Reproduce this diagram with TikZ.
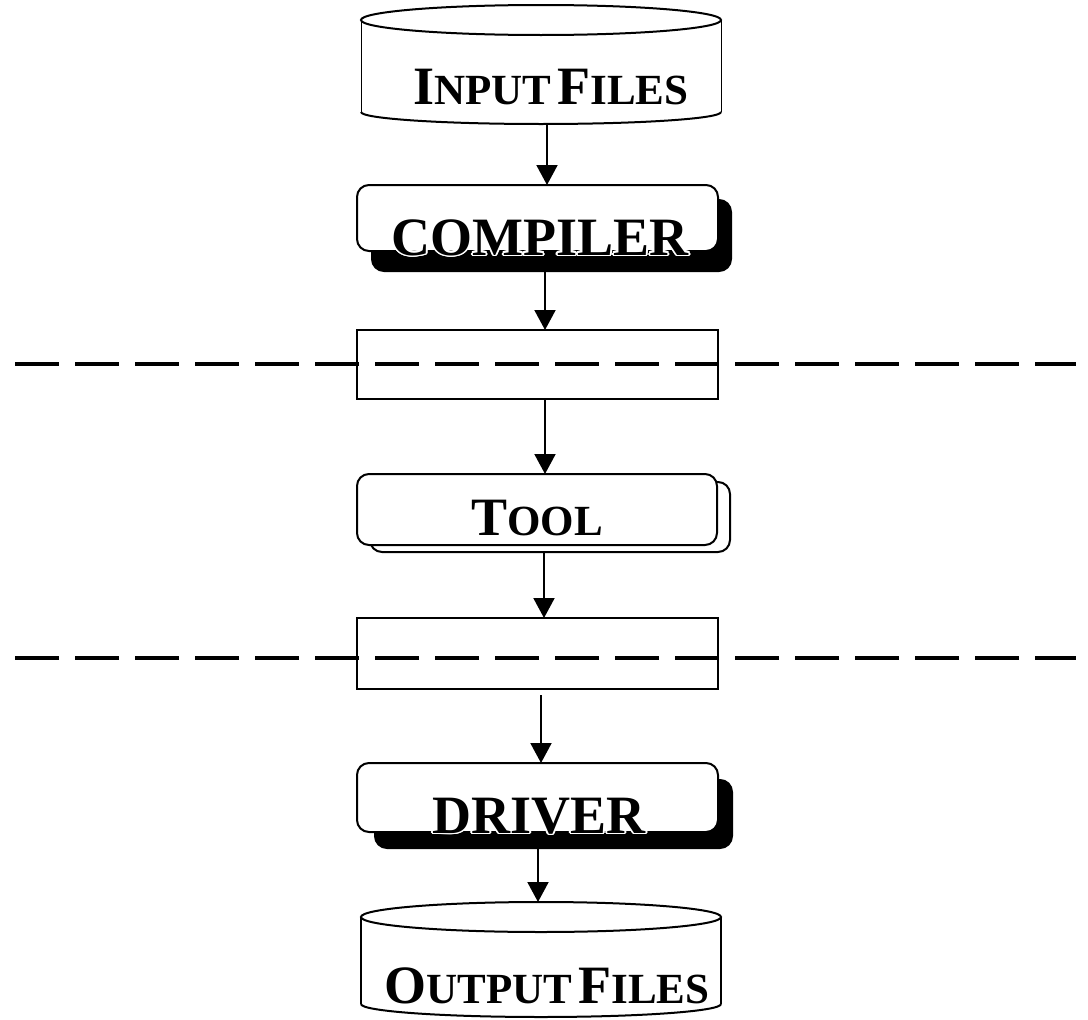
\documentclass[tikz,border=0pt]{standalone}
\usepackage{fontspec}
\setmainfont{Liberation Serif}
\usepackage{contour}
\contourlength{1.6pt}
\usetikzlibrary{arrows.meta}
\newcommand\capL[1]{{\fontsize{54pt}{54pt}\selectfont #1}}
\newcommand\capS[1]{{\fontsize{43pt}{43pt}\selectfont #1}}
\begin{document}
\begin{tikzpicture}[x=1pt,y=1pt,
  frame/.style={draw=none, inner sep=0pt, outer sep=0pt},
  rbox/.style={draw, line width=2pt, rounded corners=12pt, fill=white, inner sep=0pt, outer sep=0pt},
  blackshadow/.style={draw, line width=2pt, rounded corners=12pt, fill=black, inner sep=0pt, outer sep=0pt},
  whiteshadow/.style={draw, line width=2pt, rounded corners=12pt, fill=white, inner sep=0pt, outer sep=0pt},
  pbox/.style={draw, line width=2pt, fill=white, inner sep=0pt, outer sep=0pt},
  label/.style={anchor=base, inner sep=0pt, font=\bfseries},
  arr/.style={line width=2pt, -{Triangle[width=21pt,length=20pt]}},
  sepline/.style={line width=4.5pt, dash pattern=on 44pt off 16pt},
  cyl/.style={line width=2pt}
]
\useasboundingbox (0,0) rectangle (1088,-1020);

% ---------- input files cylinder ----------
\node[frame, minimum width=360pt, minimum height=119pt] (inp) at (541,-64.5) {};
\draw[cyl] (541,-20) ellipse [x radius=180pt, y radius=15pt];
\draw[line width=1pt] (361,-20) -- (361,-112) (721,-20) -- (721,-112);
\draw[cyl] (361,-112) arc[start angle=180, end angle=360, x radius=180pt, y radius=12pt];
\node[label] (inptext) at (551,-104) {\capL{I}\capS{NPUT}\hspace{6pt}\capL{F}\capS{ILES}};

% ---------- compiler ----------
\node[blackshadow, minimum width=359pt, minimum height=71pt] (compsh) at (551.5,-235.5) {};
\node[rbox, minimum width=361pt, minimum height=66pt] (comp) at (537.5,-218) {};
\node[label] (comptext) at (540,-255) {\capL{\contour{white}{COMPILER}}};

% ---------- interface box 1 ----------
\node[pbox, minimum width=361pt, minimum height=69pt] (box1) at (537.5,-364.5) {};

% ---------- tool ----------
\node[whiteshadow, minimum width=360pt, minimum height=70pt] (toolsh) at (550,-517) {};
\node[rbox, minimum width=360pt, minimum height=71pt] (tool) at (537,-509.5) {};
\node[label] (tooltext) at (537,-535) {\capL{T}\capS{OOL}};

% ---------- interface box 2 ----------
\node[pbox, minimum width=361pt, minimum height=71pt] (box2) at (537.5,-653.5) {};

% ---------- driver ----------
\node[blackshadow, minimum width=357pt, minimum height=68pt] (drvsh) at (553.5,-814) {};
\node[rbox, minimum width=361pt, minimum height=69pt] (drv) at (537.5,-797.5) {};
\node[label] (drvtext) at (539,-833) {\capL{\contour{white}{DRIVER}}};

% ---------- output files cylinder ----------
\node[frame, minimum width=360pt, minimum height=116pt] (out) at (541,-960) {};
\draw[cyl] (541,-917) ellipse [x radius=180pt, y radius=15pt];
\draw[line width=2.5pt] (361,-917) -- (361,-1004) (721,-917) -- (721,-1004);
\draw[cyl] (361,-1004) arc[start angle=180, end angle=360, x radius=180pt, y radius=13pt];
\node[label] (outtext) at (547,-1003) {\capL{O}\capS{UTPUT}\hspace{6pt}\capL{F}\capS{ILES}};

% ---------- dashed separation lines ----------
\coordinate (l1a) at (15,-364);
\coordinate (l1b) at (1076,-364);
\coordinate (l2a) at (15,-658);
\coordinate (l2b) at (1076,-658);
\draw[sepline] (l1a) -- (l1b);
\draw[sepline] (l2a) -- (l2b);

% ---------- connectors ----------
\path ([xshift=6pt]inp.south) coordinate (s1);
\draw[arr] (s1) -- (s1 |- comp.north);
\path ([xshift=-6.5pt]compsh.south) coordinate (s2);
\draw[arr] (s2) -- (s2 |- box1.north);
\path ([xshift=7.5pt]box1.south) coordinate (s3);
\draw[arr] (s3) -- (s3 |- tool.north);
\path ([xshift=-6pt]toolsh.south) coordinate (s4);
\draw[arr] (s4) -- (s4 |- box2.north);
\path ([xshift=3.5pt,yshift=-6pt]box2.south) coordinate (s5);
\draw[arr] (s5) -- (s5 |- drv.north);
\path ([xshift=-15.5pt]drvsh.south) coordinate (s6);
\draw[arr] (s6) -- (s6 |- out.north);
\end{tikzpicture}
\end{document}
